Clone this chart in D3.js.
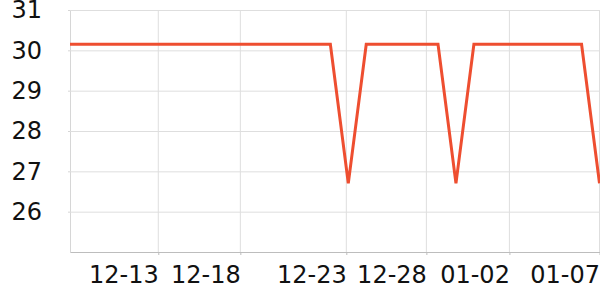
<!DOCTYPE html>
<html>
<head>
<meta charset="utf-8">
<script src="https://cdn.jsdelivr.net/npm/d3@7"></script>
<style>
  html, body { margin: 0; padding: 0; background: #fff; }
  svg { display: block; font-family: "DejaVu Sans", sans-serif; }
</style>
</head>
<body>
<svg id="chart" width="600" height="300"></svg>
<script>
// ---- data ----
const dates = [
  "2023-12-08","2023-12-09","2023-12-10","2023-12-11","2023-12-12","2023-12-13",
  "2023-12-14","2023-12-15","2023-12-16","2023-12-17","2023-12-18","2023-12-19",
  "2023-12-20","2023-12-21","2023-12-22","2023-12-23","2023-12-24","2023-12-25",
  "2023-12-26","2023-12-27","2023-12-28","2023-12-29","2023-12-30","2023-12-31",
  "2024-01-01","2024-01-02","2024-01-03","2024-01-04","2024-01-05","2024-01-06",
  "2024-01-07"
];
const values = [
  30.15,30.15,30.15,30.15,30.15,30.15,30.15,30.15,30.15,30.15,30.15,30.15,
  30.15,30.15,30.15,30.15,26.7,30.15,30.15,30.15,30.15,30.15,26.7,30.15,
  30.15,30.15,30.15,30.15,30.15,30.15,26.7
];
const xDomain = ["2023-12-08T11:45", "2024-01-07T00:40"];
const xTickTimes = ["2023-12-13T09:50","2023-12-17T23:35","2023-12-23T21:20",
                    "2023-12-28T08:25","2024-01-01T23:30","2024-01-07T00:00"];
const xTickLabels = ["12-13","12-18","12-23","12-28","01-02","01-07"];
const yDomain = [25, 31];
const yTicks = [26, 27, 28, 29, 30, 31];

// ---- layout ----
const W = 600, H = 300;
const m = { left: 70, right: 0, top: 10, bottom: 48 };
const parseD = d3.utcParse("%Y-%m-%d");
const parseT = d3.utcParse("%Y-%m-%dT%H:%M");

const data = dates.map((d, i) => ({ date: parseD(d), value: values[i] }));

const x = d3.scaleUtc()
  .domain(xDomain.map(parseT))
  .range([m.left, W - m.right]);
const y = d3.scaleLinear()
  .domain(yDomain)
  .range([H - m.bottom, m.top]);

const svg = d3.select("#chart");

svg.append("defs").append("clipPath").attr("id", "clip")
  .append("rect")
  .attr("x", m.left).attr("y", 0)
  .attr("width", W - m.left - m.right).attr("height", H - m.bottom + 2);

// horizontal grid + y labels
const yAxis = svg.append("g")
  .attr("transform", `translate(${m.left},0)`)
  .call(d3.axisLeft(y).tickValues(yTicks).tickSize(2).tickSizeOuter(0).tickPadding(26)
        .tickFormat(d3.format("d")));
yAxis.select(".domain").attr("stroke", "#d6d6d6");
yAxis.selectAll(".tick line").attr("stroke", "#d6d6d6");
yAxis.selectAll(".tick").append("line")
  .attr("x1", 0).attr("x2", W - m.left - m.right)
  .attr("stroke", "#dedede");
yAxis.selectAll("text")
  .attr("fill", "#111").style("font-size", "24px")
  .style("font-family", "'DejaVu Sans', sans-serif");

// vertical grid
const tickDates = xTickTimes.map(parseT);
svg.append("g").selectAll("line").data(tickDates).join("line")
  .attr("x1", d => x(d)).attr("x2", d => x(d))
  .attr("y1", m.top).attr("y2", H - m.bottom)
  .attr("stroke", "#dedede");

// x axis
const xAxis = svg.append("g")
  .attr("transform", `translate(0,${H - m.bottom})`)
  .call(d3.axisBottom(x).tickValues(tickDates).tickSize(3).tickSizeOuter(0)
        .tickFormat((d, i) => xTickLabels[i]));
xAxis.select(".domain").attr("stroke", "#bdbdbd");
xAxis.selectAll(".tick line").attr("stroke", "#bdbdbd");
xAxis.selectAll("text")
  .attr("text-anchor", "end")
  .attr("y", 0).attr("dy", 0)
  .attr("transform", "translate(0,31)")
  .attr("fill", "#111").style("font-size", "24px")
  .style("font-family", "'DejaVu Sans', sans-serif");

// line
svg.append("path")
  .datum(data)
  .attr("clip-path", "url(#clip)")
  .attr("fill", "none")
  .attr("stroke", "#ee4e30")
  .attr("stroke-width", 3)
  .attr("d", d3.line().x(d => x(d.date)).y(d => y(d.value)));
</script>
</body>
</html>
